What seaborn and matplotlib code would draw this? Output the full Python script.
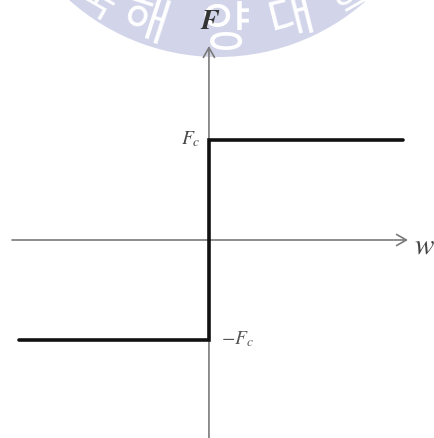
import matplotlib
matplotlib.use("Agg")
import matplotlib.pyplot as plt
from matplotlib.patches import Circle
import seaborn as sns
import pandas as pd

# Coulomb friction law: F = Fc * sign(w)
Fc = 1.0
velocity = [-0.98, 0.0, 0.0, 1.0]
friction = [-Fc, -Fc, Fc, Fc]

x_range = (-1.077, 1.160)
y_range = (-1.98, 2.41)
axis_x_ends = (-1.015, 1.026)
axis_y_ends = (-1.98, 1.94)

seal_chars = ["국", "해", "양", "대", "학"]

sns.set_style("white")
plt.rcParams["mathtext.fontset"] = "stix"

W, H = 434, 439
fig = plt.figure(figsize=(W / 100, H / 100), dpi=100)

# background layer in pixel units for the seal watermark
bg = fig.add_axes([0, 0, 1, 1], zorder=0)
bg.set_xlim(0, W)
bg.set_ylim(H, 0)
bg.set_aspect("auto")
bg.axis("off")
seal_color = "#d2d5ea"
bg.add_patch(Circle((218, -165), 223, color=seal_color, lw=0))
seal_pos = [(96, 2, -30, 30), (145, 22, -18, 36), (225, 30, 0, 39),
            (292, 18, 14, 36), (354, 0, 30, 30)]
for ch, (px, py, rot, fs) in zip(seal_chars, seal_pos):
    bg.text(px, py, ch, color="white", fontsize=fs, rotation=rot,
            ha="center", va="center", family="Noto Sans CJK KR",
            fontweight="normal")

ax = fig.add_axes([0, 0, 1, 1], zorder=1)
ax.patch.set_alpha(0)
ax.set_xlim(*x_range)
ax.set_ylim(*y_range)
for s in ax.spines.values():
    s.set_visible(False)
ax.set_xticks([])
ax.set_yticks([])

axis_color = "#7a7a7a"
arrow = dict(arrowstyle="->,head_length=0.7,head_width=0.4", color=axis_color,
             lw=1.2, shrinkA=0, shrinkB=0, mutation_scale=10)
ax.annotate("", xy=(axis_x_ends[1], 0), xytext=(axis_x_ends[0], 0),
            arrowprops=arrow)
ax.annotate("", xy=(0, axis_y_ends[1]), xytext=(0, axis_y_ends[0]),
            arrowprops=arrow)

df = pd.DataFrame({"w": velocity, "F": friction})
sns.lineplot(data=df, x="w", y="F", sort=False, estimator=None,
             color="#111111", lw=2.6, ax=ax, zorder=5,
             solid_joinstyle="miter")
ax.set_xlabel("")
ax.set_ylabel("")

ax.text(0.005, 2.19, "F", family="STIXGeneral", style="italic",
        fontweight="bold", fontsize=20, color="#333333",
        ha="center", va="center")
ax.text(1.055, -0.05, "$w$", fontsize=21, color="#444444",
        ha="left", va="center")
ax.text(-0.045, 1.02, "$F_c$", fontsize=14, color="#444444",
        ha="right", va="center")
ax.text(0.062, -0.98, "$-F_c$", fontsize=14, color="#555555",
        ha="left", va="center")

fig.savefig("out.png", dpi=100)
